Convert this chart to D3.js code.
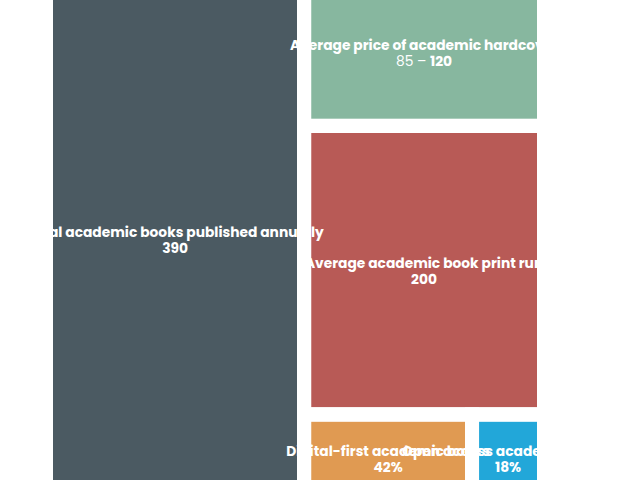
<!DOCTYPE html>
<html>
<head>
<meta charset="utf-8">
<script src="https://cdn.jsdelivr.net/npm/d3@7"></script>
<style>
  html, body { margin: 0; padding: 0; background: #fff; }
  svg { display: block; }
  text { font-family: Poppins, "Open Sans", sans-serif; fill: #fff; }
</style>
</head>
<body>
<svg id="chart" width="640" height="480"></svg>
<script>
// cells of the treemap, in drawing order
const names = [
  'Total academic books published annually',
  'Average price of academic hardcover',
  'Average academic book print run',
  'Digital-first academic books',
  'Open access academic books'
]
const values = [390, 102.5, 200, 42, 18]
const labels = [['390'], ['85 – ', '120'], ['200'], ['42%'], ['18%']]
const colors = ['#4b5a62', '#87b79f', '#b85a56', '#e09a52', '#22a7d9']

const box = { x0: 53, y0: -15, x1: 537, y1: 494 }
const gap = 14

const svg = d3.select('#chart')

// biggest cell gets its own column, the rest is squarified
const tile = (parent, x0, y0, x1, y1) => {
  const [first, ...rest] = parent.children
  const xm = x0 + (x1 - x0) * first.value / parent.value
  first.x0 = x0; first.y0 = y0; first.x1 = xm; first.y1 = y1
  d3.treemapSquarify({ children: rest, value: parent.value - first.value }, xm, y0, x1, y1)
}

const root = d3.hierarchy({ children: names.map((name, i) => ({ name, value: values[i], label: labels[i], color: colors[i] })) })
  .sum((d) => d.value || 0)

d3.treemap()
  .tile(tile)
  .size([box.x1 - box.x0, box.y1 - box.y0])
  .paddingInner(gap)(root)

const leaves = root.leaves()

svg.append('defs').append('clipPath').attr('id', 'plot')
  .append('rect')
  .attr('x', 0).attr('y', 0)
  .attr('width', box.x1 - box.x0).attr('height', box.y1 - box.y0)

const g = svg.append('g')
  .attr('transform', `translate(${box.x0},${box.y0})`)
  .attr('clip-path', 'url(#plot)')

g.selectAll('rect.cell')
  .data(leaves)
  .join('rect')
  .attr('class', 'cell')
  .attr('x', (d) => d.x0)
  .attr('y', (d) => d.y0)
  .attr('width', (d) => d.x1 - d.x0)
  .attr('height', (d) => d.y1 - d.y0)
  .attr('fill', (d) => d.data.color)

const label = g.selectAll('text.label')
  .data(leaves)
  .join('text')
  .attr('class', 'label')
  .attr('text-anchor', 'middle')
  .attr('x', (d) => (d.x0 + d.x1) / 2)
  .attr('y', (d) => (d.y0 + d.y1) / 2)
  .style('font-size', '13.8px')

label.append('tspan')
  .attr('x', (d) => (d.x0 + d.x1) / 2)
  .attr('dy', -2.2)
  .style('font-weight', 700)
  .text((d) => d.data.name)

const val = label.append('tspan')
  .attr('x', (d) => (d.x0 + d.x1) / 2)
  .attr('dy', 16)

val.each(function (d) {
  const parts = d.data.label
  parts.forEach((p, i) => {
    d3.select(this).append('tspan')
      .style('font-weight', i === parts.length - 1 ? 700 : 400)
      .text(p)
  })
})

// white gutters go over the labels, like the original
g.selectAll('rect.gutter')
  .data(leaves)
  .join('rect')
  .attr('class', 'gutter')
  .attr('x', (d) => d.x0 - gap / 2)
  .attr('y', (d) => d.y0 - gap / 2)
  .attr('width', (d) => d.x1 - d.x0 + gap)
  .attr('height', (d) => d.y1 - d.y0 + gap)
  .attr('fill', 'none')
  .attr('stroke', '#fff')
  .attr('stroke-width', gap)
</script>
</body>
</html>
